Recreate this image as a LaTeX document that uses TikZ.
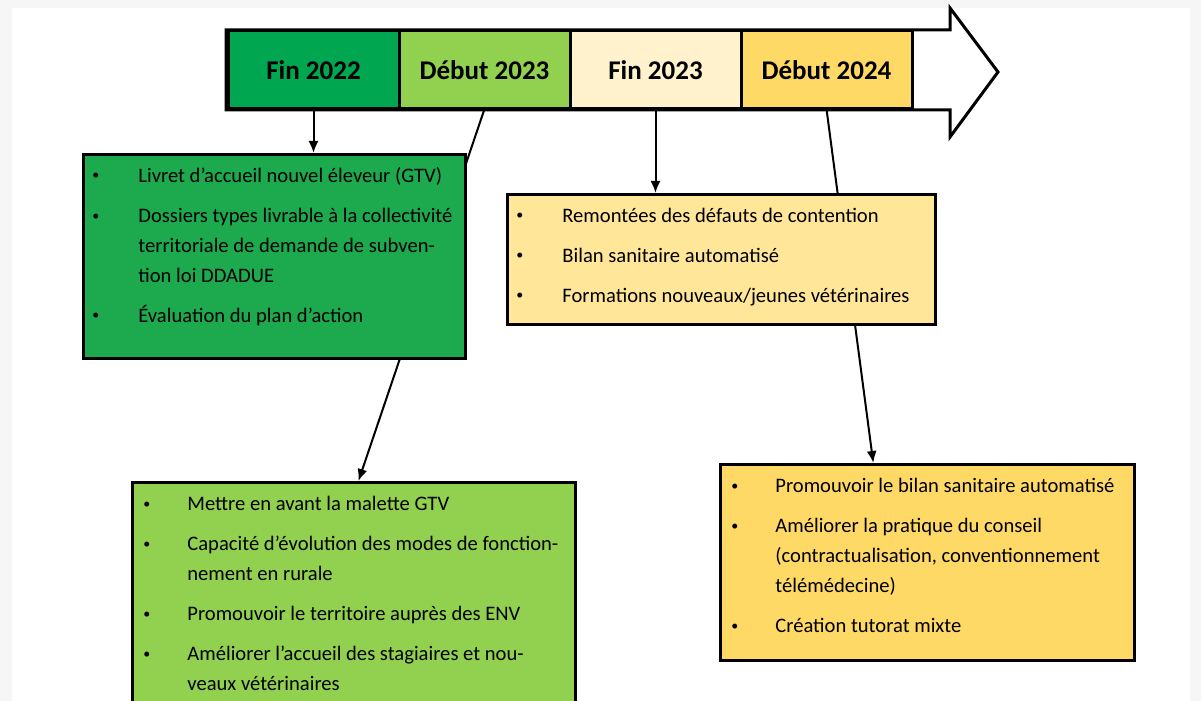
\documentclass[tikz,border=0pt]{standalone}
\usepackage{fontspec}
\setmainfont{Carlito}
\usetikzlibrary{positioning,calc,arrows.meta,backgrounds}

\definecolor{vertfonce}{HTML}{00A650}
\definecolor{vertboite}{HTML}{1DA94D}
\definecolor{vertclair}{HTML}{92D050}
\definecolor{jaunepale}{HTML}{FFF2CC}
\definecolor{jauneclair}{HTML}{FFE699}
\definecolor{jaune}{HTML}{FFD966}

\newcommand{\puce}{\raisebox{1.2pt}{\fontsize{7}{7}\selectfont\textbullet}}

\tikzset{
  periode/.style={draw, line width=1.5pt, outer sep=0pt, minimum width=85.5pt, minimum height=39pt,
    inner sep=0pt, font=\fontsize{13.5}{16}\selectfont\bfseries},
  boite/.style={draw, line width=1.5pt, anchor=north west, inner sep=0pt},
  liste/.style={anchor=north west, inner xsep=5pt, inner ysep=4pt,
    font=\fontsize{10.3}{15}\selectfont, align=left},
  fleche/.style={line width=1pt, -{Latex[length=6pt,width=5pt]}},
}

\begin{document}
\begin{tikzpicture}[x=0.5pt, y=-0.5pt]
\useasboundingbox (0,0) rectangle (1201,701);
\clip (0,0) rectangle (1201,701);

% frise
\draw[line width=1.5pt, fill=white, line join=miter]
  (226,30) -- (950,30) -- (950,8) -- (998,72) -- (950,137) -- (950,110) -- (226,110) -- cycle;
\node[periode, fill=vertfonce] (fin22) at (313.5,70) {Fin 2022};
\node[periode, fill=vertclair, right=0pt of fin22] (deb23) {Début 2023};
\node[periode, fill=jaunepale, right=0pt of deb23] (fin23) {Fin 2023};
\node[periode, fill=jaune, right=0pt of fin23] (deb24) {Début 2024};

% boites
\node[boite, fill=vertboite, minimum width=191pt, minimum height=102pt] (box1) at (82,153) {};
\node[liste] (box1txt) at (box1.north west) {%
\begin{tabular}{@{}p{23pt}@{}l@{}}
\puce & Livret d’accueil nouvel éleveur (GTV)\\[5pt]
\puce & Dossiers types livrable à la collectivité\\
      & territoriale de demande de subven-\\
      & tion loi DDADUE\\[5pt]
\puce & Évaluation du plan d’action
\end{tabular}};

\node[boite, fill=jauneclair, minimum width=214pt, minimum height=65pt] (box2) at (506,193) {};
\node[liste] (box2txt) at (box2.north west) {%
\begin{tabular}{@{}p{23pt}@{}l@{}}
\puce & Remontées des défauts de contention\\[5pt]
\puce & Bilan sanitaire automatisé\\[5pt]
\puce & Formations nouveaux/jeunes vétérinaires
\end{tabular}};

\node[boite, fill=vertclair, minimum width=221.5pt, minimum height=120pt] (box3) at (131,481) {};
\node[liste, inner xsep=6pt] (box3txt) at (box3.north west) {%
\begin{tabular}{@{}p{22pt}@{}l@{}}
\puce & Mettre en avant la malette GTV\\[5pt]
\puce & Capacité d’évolution des modes de fonction-\\
      & nement en rurale\\[5pt]
\puce & Promouvoir le territoire auprès des ENV\\[5pt]
\puce & Améliorer l’accueil des stagiaires et nou-\\
      & veaux vétérinaires
\end{tabular}};

\node[boite, fill=jaune, minimum width=207pt, minimum height=98pt] (box4) at (719,463) {};
\node[liste, inner xsep=6pt] (box4txt) at (box4.north west) {%
\begin{tabular}{@{}p{22pt}@{}l@{}}
\puce & Promouvoir le bilan sanitaire automatisé\\[5pt]
\puce & Améliorer la pratique du conseil\\
      & (contractualisation, conventionnement\\
      & télémédecine)\\[5pt]
\puce & Création tutorat mixte
\end{tabular}};

% liens
\begin{pgfonlayer}{background}
\fill[gray!7] (0,0) rectangle (1201,701);
\fill[white] (12,8) rectangle (1190,701);
\draw[fleche] (deb23.south) -- ($(box3.north west)!0.51!(box3.north east)$);
\draw[fleche] (deb24.south) -- ($(box4.north west)!0.37!(box4.north east)$);
\end{pgfonlayer}
\draw[fleche] (fin22.south) -- (fin22.south |- box1.north);
\draw[fleche] (fin23.south) -- (fin23.south |- box2.north);
\end{tikzpicture}
\end{document}
